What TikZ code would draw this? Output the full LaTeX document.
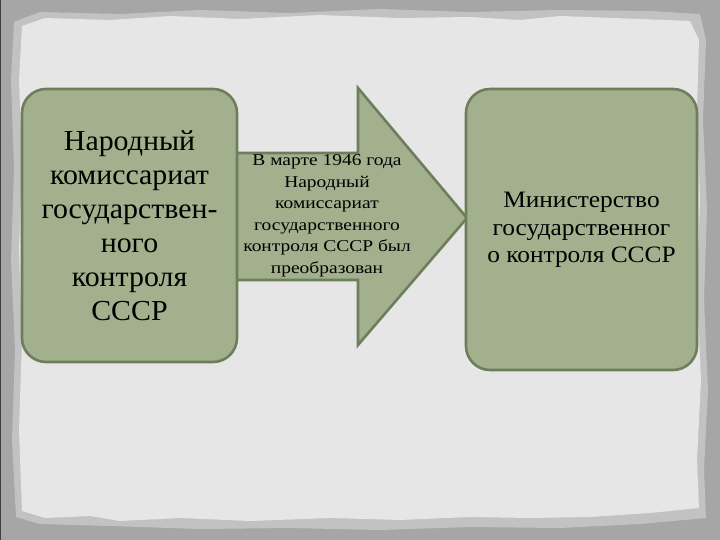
\documentclass[tikz,border=0pt]{standalone}
\usepackage{fontspec}
\setmainfont{Liberation Serif}
\newfontfamily\widefont[FakeStretch=1.18]{Liberation Serif}
\newfontfamily\midfont[FakeStretch=1.08]{Liberation Serif}
\newfontfamily\leftfont[FakeStretch=1.03]{Liberation Serif}
\begin{document}
\begin{tikzpicture}[x=1pt,y=-1pt,
  greenbox/.style={draw=boxline, fill=boxfill, line width=2.6pt, rounded corners=24pt, inner sep=0pt},
  lefttext/.style={align=center, font=\leftfont\fontsize{29}{34}\selectfont, text=black},
  arrowtext/.style={align=center, font=\widefont\fontsize{16.5}{21.5}\selectfont, text=black},
  righttext/.style={align=center, font=\midfont\fontsize{23.5}{27.5}\selectfont, text=black}]
\definecolor{outergray}{HTML}{A6A6A6}
\definecolor{papergray}{HTML}{E6E6E6}
\definecolor{edgegray}{HTML}{C2C2C2}
\definecolor{boxfill}{HTML}{A2B08D}
\definecolor{boxline}{HTML}{6E7D5C}
\useasboundingbox (0,0) rectangle (720,540);
% outer background
\fill[outergray] (0,0) rectangle (720,540);
\draw[black!75, line width=1pt] (0,0) rectangle (720,540);
% torn paper
\fill[edgegray] (14,22) -- (40,12) -- (120,14) -- (200,10) -- (290,13) -- (380,9) -- (470,12) -- (560,10) -- (650,11) -- (700,14)
  -- (706,40) -- (703,120) -- (707,210) -- (704,300) -- (708,390) -- (704,470) -- (706,518)
  -- (640,524) -- (560,528) -- (470,527) -- (380,530) -- (290,528) -- (200,529) -- (110,526) -- (40,524) -- (16,517)
  -- (12,440) -- (15,350) -- (11,260) -- (14,170) -- (11,80) -- cycle;
\fill[papergray] (22,26) -- (45,18) -- (110,20) -- (170,16) -- (240,19) -- (320,15) -- (400,18) -- (470,17) -- (520,20) -- (560,16) -- (640,19) -- (690,21)
  -- (699,40) -- (697,110) -- (700,200) -- (697,290) -- (701,380) -- (697,460) -- (699,508)
  -- (650,513) -- (590,517) -- (530,518) -- (470,517) -- (400,520) -- (330,518) -- (250,521) -- (180,518) -- (120,521) -- (90,516) -- (45,518) -- (22,511)
  -- (19,430) -- (22,340) -- (19,250) -- (22,160) -- (19,80) -- cycle;
% arrow
\coordinate (sa) at (236,153);
\coordinate (sb) at (358,153);
\coordinate (ht) at (358,88);
\coordinate (tip) at (467,218);
\coordinate (hb) at (358,345);
\coordinate (sc) at (358,280);
\coordinate (sd) at (236,280);
\draw[draw=boxline, fill=boxfill, line width=2.6pt, line join=miter]
  (sa) -- (sb) -- (ht) -- (tip) -- (hb) -- (sc) -- (sd) -- cycle;
\node[arrowtext] (mid) at (327,216) {В марте 1946 года\\Народный\\комиссариат\\государственного\\контроля СССР был\\преобразован};
% boxes
\node[greenbox, minimum width=215pt, minimum height=273pt] (left) at (129.5,225.5) {};
\node[lefttext] (lt) at (left.center) {Народный\\комиссариат\\государствен-\\ного\\контроля\\СССР};
\node[greenbox, minimum width=231pt, minimum height=281pt] (right) at (581.5,229.5) {};
\node[righttext] (rt) at (581.5,230) {Министерство\\государственног\\о контроля СССР};
\end{tikzpicture}
\end{document}
